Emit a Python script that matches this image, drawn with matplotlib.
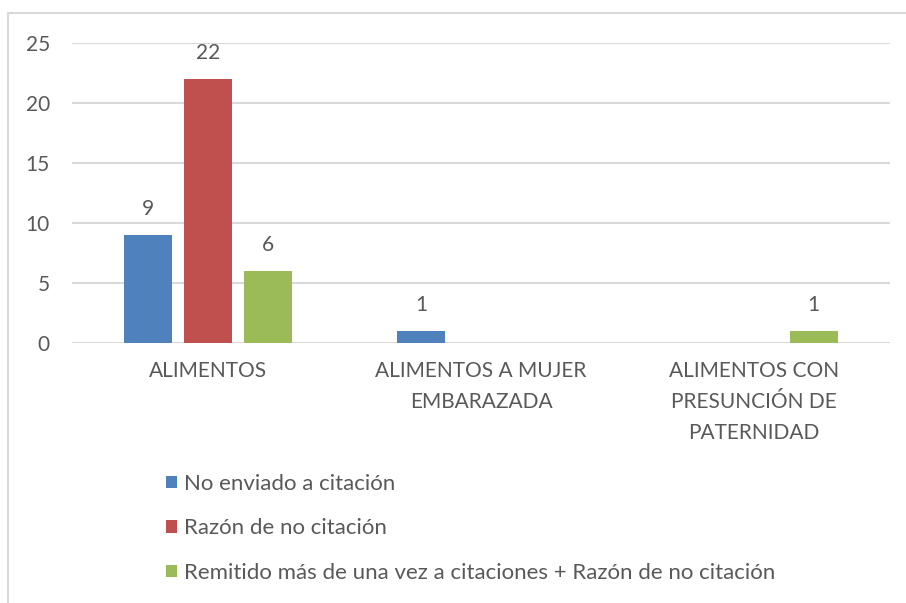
import matplotlib.pyplot as plt
from matplotlib.patches import Rectangle, Patch
import numpy as np

categories = ["ALIMENTOS", "ALIMENTOS A MUJER\nEMBARAZADA", "ALIMENTOS CON\nPRESUNCIÓN DE\nPATERNIDAD"]
series_names = ["No enviado a citación", "Razón de no citación",
                "Remitido más de una vez a citaciones + Razón de no citación"]
no_enviado = [9, 1, None]
razon = [22, None, None]
remitido = [6, None, 1]
colors = ["#4F81BD", "#C0504D", "#9BBB59"]
yticks = [0, 5, 10, 15, 20, 25]

plt.rcParams["font.family"] = ["Lato", "DejaVu Sans"]
text_color = "#595959"
fs = 15

fig = plt.figure(figsize=(9.06, 6.03), dpi=100)
ax = fig.add_axes([72 / 906, 1 - 342.7 / 603, (890 - 72) / 906, 300 / 603])

# outer chart frame (cut off at right and bottom)
fig.patches.append(Rectangle((8 / 906, -0.1), 1.2, 1 - 13 / 603 + 0.1, transform=fig.transFigure,
                             fill=False, edgecolor="#D9D9D9", linewidth=1.5))

x = np.arange(len(categories))
width = 0.176
step = 0.22
for i, (vals, col) in enumerate(zip([no_enviado, razon, remitido], colors)):
    for xi, v in zip(x, vals):
        if v is None:
            continue
        pos = xi + (i - 1) * step
        ax.bar(pos, v, width=width, color=col, zorder=3)
        ax.annotate(str(v), (pos, v), xytext=(0, 11), textcoords="offset points",
                    ha="center", va="bottom", fontsize=fs, color=text_color)

ax.set_xlim(-0.5, 2.5)
ax.set_ylim(0, 25)
ax.set_yticks(yticks)
ax.set_xticks(x)
ax.set_xticklabels(categories, linespacing=1.68)
ax.tick_params(axis="both", length=0, labelsize=fs, labelcolor=text_color)
ax.tick_params(axis="x", pad=13)
ax.tick_params(axis="y", pad=16)
ax.grid(axis="y", color="#D9D9D9", linewidth=1.5, zorder=0)
for s in ax.spines.values():
    s.set_visible(False)

handles = [Patch(facecolor=c) for c in colors]
fig.legend(handles, series_names, loc="upper left", bbox_to_anchor=(146 / 906, 1 - 454 / 603),
           frameon=False, fontsize=16, labelcolor=text_color, handlelength=0.5, handleheight=0.5,
           handletextpad=0.3, labelspacing=1.1)

fig.savefig("out.png", dpi=100)
